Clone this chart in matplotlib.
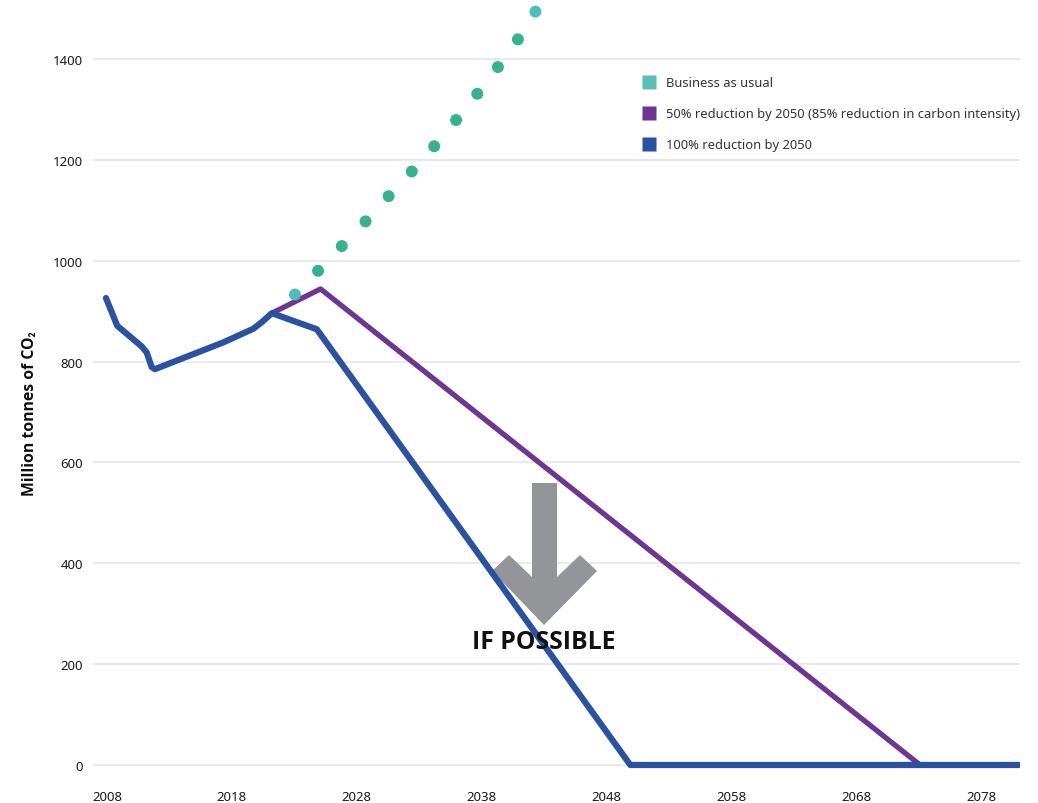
import matplotlib
matplotlib.use("Agg")
import matplotlib.pyplot as plt
from matplotlib.lines import Line2D
from matplotlib.patches import Polygon
from matplotlib.transforms import Affine2D

# ---- data ----
bau_years = [2023.05, 2024.9, 2026.8, 2028.7, 2030.55, 2032.4, 2034.2, 2035.95,
             2037.65, 2039.3, 2040.9, 2042.3]
bau_values = [933, 980, 1029, 1078, 1128, 1177, 1227, 1279, 1331, 1384, 1439, 1494]

half_years = [2021.2, 2025.1, 2073.1, 2081.0]
half_values = [896, 944, 0, 0]

full_years = [2007.92, 2008.38, 2008.82, 2010.78, 2011.18, 2011.58, 2011.84,
              2017.31, 2019.71, 2020.39, 2021.2, 2024.8, 2049.9, 2081.0]
full_values = [926, 898, 871, 830, 818, 789, 785, 838, 865, 878, 896, 864, 0, 0]

x_ticks = [2008, 2018, 2028, 2038, 2048, 2058, 2068, 2078]
y_ticks = [0, 200, 400, 600, 800, 1000, 1200, 1400]

legend_labels = ["Business as usual",
                 "50% reduction by 2050 (85% reduction in carbon intensity)",
                 "100% reduction by 2050"]

# ---- styling ----
BLUE = "#2a52a0"
PURPLE = "#6e3591"
GREEN = "#38b18f"
TEAL = "#4dbdba"
GRID = "#e6e6e6"
FONT = ["Noto Sans", "DejaVu Sans"]
BOLD = ["Open Sans", "Lato", "DejaVu Sans"]

plt.rcParams["font.family"] = FONT

W, H = 1038, 804
fig = plt.figure(figsize=(W / 100, H / 100), dpi=100)
ax = fig.add_axes([93 / W, (H - 786) / H, (1020 - 93) / W, 786 / H])

ax.set_xlim(2006.88, 2081.1)
ax.set_ylim(-39.7, 1519)

for s in ax.spines.values():
    s.set_visible(False)
ax.set_yticks(y_ticks)
ax.set_yticklabels([str(v) for v in y_ticks])
ax.set_xticks(x_ticks)
ax.set_xticklabels([str(v) for v in x_ticks])
ax.tick_params(axis="both", length=0, labelsize=9.5, colors="#1a1a1a")
ax.tick_params(axis="y", pad=7)
ax.tick_params(axis="x", pad=3.5)
ax.grid(axis="y", color=GRID, linewidth=1.2)
ax.grid(axis="x", visible=False)
ax.set_axisbelow(True)

ax.set_ylabel("Million tonnes of CO\u2082", fontsize=11.3, fontweight="bold",
              color="#111111", family=BOLD)
ax.yaxis.set_label_coords(-0.059, (786 - 414) / 786)

# arrow annotation (pixel coordinates, y from top)
pix = Affine2D().scale(1, -1).translate(0, H)
arrow_pts = [(532, 484), (557, 484), (557, 578), (580, 556), (597, 572),
             (544, 626), (492, 572), (509, 556), (532, 578)]
ax.add_patch(Polygon(arrow_pts, closed=True, facecolor="#939598",
                     edgecolor="none", transform=pix, zorder=2))

ax.plot(half_years, half_values, color=PURPLE, linewidth=3.8,
        solid_joinstyle="round", solid_capstyle="round", zorder=3)
ax.plot(full_years, full_values, color=BLUE, linewidth=4.5,
        solid_joinstyle="round", solid_capstyle="round", zorder=4)

dot_colors = [TEAL] + [GREEN] * (len(bau_years) - 2) + [TEAL]
ax.scatter(bau_years, bau_values, s=8.6 ** 2, c=dot_colors, edgecolors="none",
           zorder=5, clip_on=False)

ax.text(544, 643, "IF POSSIBLE", transform=pix, ha="center", va="center",
        fontsize=17.8, fontweight="bold", color="#111111", family=BOLD, zorder=6)

handles = [Line2D([], [], marker="s", linestyle="none", markersize=9.5,
                  markerfacecolor=c, markeredgecolor="none")
           for c in ["#5bbfb5", PURPLE, BLUE]]
leg = ax.legend(handles, legend_labels, loc="upper left",
                bbox_to_anchor=(636 / W, 1 - 71 / H), bbox_transform=fig.transFigure,
                frameon=False, fontsize=9.3, labelspacing=1.38, handlelength=1.0,
                handletextpad=0.8, borderpad=0)
for t in leg.get_texts():
    t.set_color("#333333")

fig.savefig("out.png", dpi=100, facecolor="white")
